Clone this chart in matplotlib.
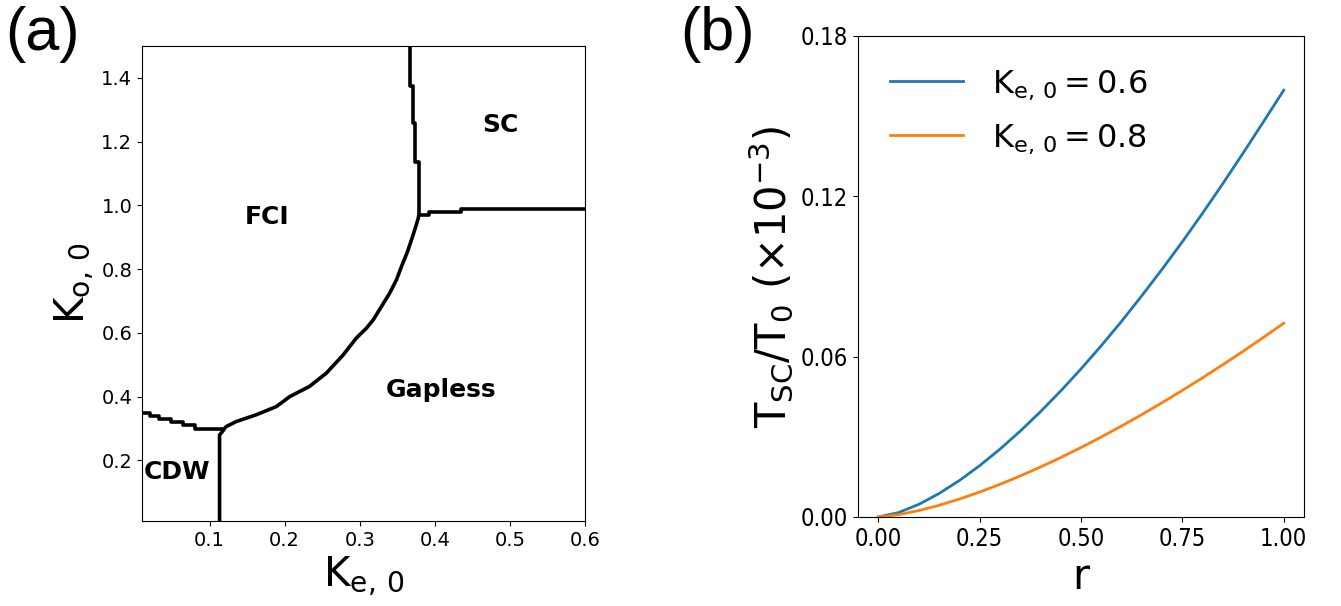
import matplotlib
matplotlib.use('Agg')
import matplotlib.pyplot as plt
import numpy as np

# panel (a): phase boundaries
top_x = [0.3667, 0.3667, 0.3703, 0.3703, 0.374, 0.374, 0.3787, 0.3787]
top_y = [1.50, 1.376, 1.376, 1.257, 1.257, 1.135, 1.135, 0.97]
sc_x = [0.3787, 0.392, 0.392, 0.435, 0.435, 0.60]
sc_y = [0.97, 0.97, 0.98, 0.98, 0.99, 0.99]
arc_x = [0.3787, 0.378, 0.3747, 0.369, 0.363, 0.3556, 0.349, 0.340, 0.329,
         0.318, 0.309, 0.2956, 0.278, 0.2556, 0.233, 0.2067, 0.189, 0.162,
         0.1356, 0.122, 0.12]
arc_y = [0.97, 0.96, 0.934, 0.892, 0.851, 0.808, 0.767, 0.725, 0.683,
         0.641, 0.615, 0.584, 0.531, 0.474, 0.432, 0.40, 0.369, 0.343,
         0.322, 0.306, 0.30]
left_x = [0.12, 0.08, 0.08, 0.064, 0.064, 0.049, 0.049, 0.033, 0.033, 0.02, 0.02, 0.01]
left_y = [0.30, 0.30, 0.31, 0.31, 0.32, 0.32, 0.33, 0.33, 0.34, 0.34, 0.35, 0.35]
cdw_x = [0.1133, 0.1133, 0.117, 0.12]
cdw_y = [0.01, 0.28, 0.29, 0.30]

phases = ['FCI', 'SC', 'Gapless', 'CDW']
phase_x = [0.176, 0.487, 0.409, 0.057]
phase_y = [0.965, 1.253, 0.42, 0.165]

# panel (b): T_SC/T_0 vs r
r = [0.0, 0.05, 0.1, 0.15, 0.2, 0.25, 0.3, 0.35, 0.4, 0.45, 0.5,
     0.55, 0.6, 0.65, 0.7, 0.75, 0.8, 0.85, 0.9, 0.95, 1.0]
t_06 = [0.0, 0.00164, 0.00472, 0.00878, 0.01364, 0.01919, 0.02536, 0.03211,
        0.03938, 0.04716, 0.0554, 0.0641, 0.0732, 0.0828, 0.0927, 0.1030,
        0.1137, 0.1248, 0.1362, 0.1479, 0.1597]
t_08 = [0.0, 0.00086, 0.0024, 0.00437, 0.0067, 0.00932, 0.0122, 0.01534,
        0.01868, 0.02224, 0.02599, 0.02993, 0.03405, 0.03832, 0.04276,
        0.04736, 0.05211, 0.057, 0.06203, 0.0672, 0.0725]

fig = plt.figure(figsize=(13.41, 6.06), dpi=100)

ax1 = fig.add_axes([0.1059, 0.1403, 0.3303, 0.7838])
for xs, ys in [(top_x, top_y), (sc_x, sc_y), (arc_x, arc_y), (left_x, left_y), (cdw_x, cdw_y)]:
    ax1.plot(xs, ys, color='black', lw=2.6, solid_capstyle='butt')
for name, px, py in zip(phases, phase_x, phase_y):
    ax1.text(px, py, name, fontsize=18, fontweight='bold', ha='center', va='center')
ax1.set_xlim(0.01, 0.6)
ax1.set_ylim(0.01, 1.5)
ax1.set_xticks([0.1, 0.2, 0.3, 0.4, 0.5, 0.6])
ax1.set_yticks([0.2, 0.4, 0.6, 0.8, 1.0, 1.2, 1.4])
ax1.tick_params(labelsize=14)
ax1.set_xlabel(r'$\mathrm{K_{e,\,0}}$', fontsize=29)
ax1.set_ylabel(r'$\mathrm{K_{o,\,0}}$', fontsize=29)

ax2 = fig.add_axes([0.6398, 0.1469, 0.3326, 0.7937])
ax2.plot(r, t_06, color='#1f77b4', lw=2, label=r'$\mathrm{K_{e,\,0} = 0.6}$')
ax2.plot(r, t_08, color='#ff7f0e', lw=2, label=r'$\mathrm{K_{e,\,0} = 0.8}$')
ax2.set_ylim(0, 0.18)
ax2.set_yticks([0.0, 0.06, 0.12, 0.18])
ax2.set_xticks([0.0, 0.25, 0.5, 0.75, 1.0])
ax2.yaxis.set_major_formatter(matplotlib.ticker.FormatStrFormatter('%.2f'))
ax2.xaxis.set_major_formatter(matplotlib.ticker.FormatStrFormatter('%.2f'))
for lab in ax2.get_xticklabels() + ax2.get_yticklabels():
    lab.set_fontsize(17)
    lab.set_fontstretch('condensed')
ax2.set_xlabel('r', fontsize=30)
ax2.set_ylabel(r'$\mathrm{T_{SC}/T_0\ (\times 10^{-3})}$', fontsize=30)
ax2.legend(loc='upper left', frameon=False, fontsize=23, handlelength=2.3,
           handletextpad=0.9, borderaxespad=0.6, labelspacing=0.65)

fig.text(0.004, 0.99, '(a)', fontsize=44, family='Liberation Sans', va='top')
fig.text(0.507, 0.99, '(b)', fontsize=44, family='Liberation Sans', va='top')

fig.savefig('out.png', dpi=100)
